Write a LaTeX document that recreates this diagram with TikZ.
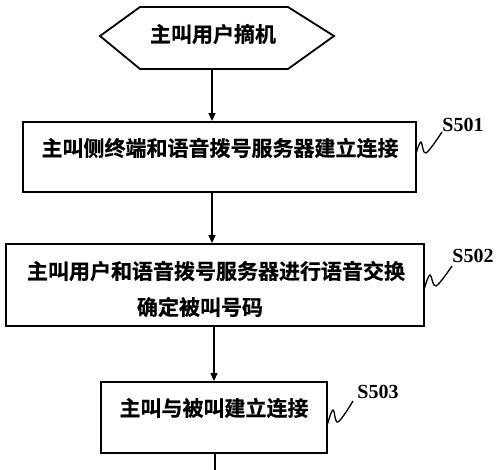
\documentclass[tikz,border=0pt]{standalone}
\usepackage{fontspec}
\newfontfamily\cjk{Noto Sans CJK SC}[BoldFont={Noto Sans CJK SC Bold},BoldFeatures={FakeBold=0.6}]
\newfontfamily\lab{Liberation Serif}
\usetikzlibrary{arrows.meta}
\begin{document}
\begin{tikzpicture}[x=1pt,y=-1pt,
  boxline/.style={draw=black,line width=1.8pt},
  txt/.style={font=\cjk\bfseries\fontsize{21}{24}\selectfont,inner sep=0pt,anchor=center},
  steplab/.style={font=\lab\bfseries\fontsize{20}{22}\selectfont,inner sep=0pt,anchor=center},
  flow/.style={draw=black,line width=1.3pt,-{Triangle[length=8pt,width=7pt]}},
  squig/.style={draw=black,line width=1.3pt}]
\useasboundingbox (0,0) rectangle (500,470);
\fill[white] (0,0) rectangle (500,470);
% start hexagon
\coordinate (h1) at (100,36);
\coordinate (h2) at (140,7);
\coordinate (h3) at (288,7);
\coordinate (h4) at (334,36);
\coordinate (h5) at (288,69);
\coordinate (h6) at (140,69);
\draw[boxline,line join=miter] (h1)--(h2)--(h3)--(h4)--(h5)--(h6)--cycle;
\coordinate (hb) at (212,69);
\node[txt] (t0) at (213,34) {主叫用户摘机};
% boxes
\node[boxline,minimum width=393pt,minimum height=70pt,inner sep=0pt] (b1) at (219.5,157) {};
\node[txt] (t1) at (220,148) {主叫侧终端和语音拨号服务器建立连接};
\node[boxline,minimum width=418pt,minimum height=82pt,inner sep=0pt] (b2) at (215,285) {};
\node[txt] (t2a) at (216,271) {主叫用户和语音拨号服务器进行语音交换};
\node[txt] (t2b) at (200,307) {确定被叫号码};
\node[boxline,minimum width=226pt,minimum height=71pt,inner sep=0pt] (b3) at (214,417.5) {};
\node[txt] (t3) at (214,408) {主叫与被叫建立连接};
% arrows
\draw[flow] (hb) -- (hb |- b1.north);
\draw[flow] (b1.south -| 212,0) -- (b2.north -| 212,0);
\draw[flow] (b2.south -| 214,0) -- (b3.north -| 214,0);
\coordinate (endb) at (215,470);
\draw[draw=black,line width=1.3pt] (b3.south -| endb) -- (endb);
% step labels
\node[steplab] (s1) at (463,125) {S501};
\node[steplab] (s2) at (473,256) {S502};
\node[steplab] (s3) at (378,392) {S503};
\draw[squig] plot[smooth,tension=0.6] coordinates {(416.5,152) (421,142) (426,153) (442,132)};
\draw[squig] plot[smooth,tension=0.6] coordinates {(424.5,288) (430,275) (436,286) (452,266)};
\draw[squig] plot[smooth,tension=0.6] coordinates {(327.5,424) (333,410) (338,422) (353,401)};
\end{tikzpicture}
\end{document}
